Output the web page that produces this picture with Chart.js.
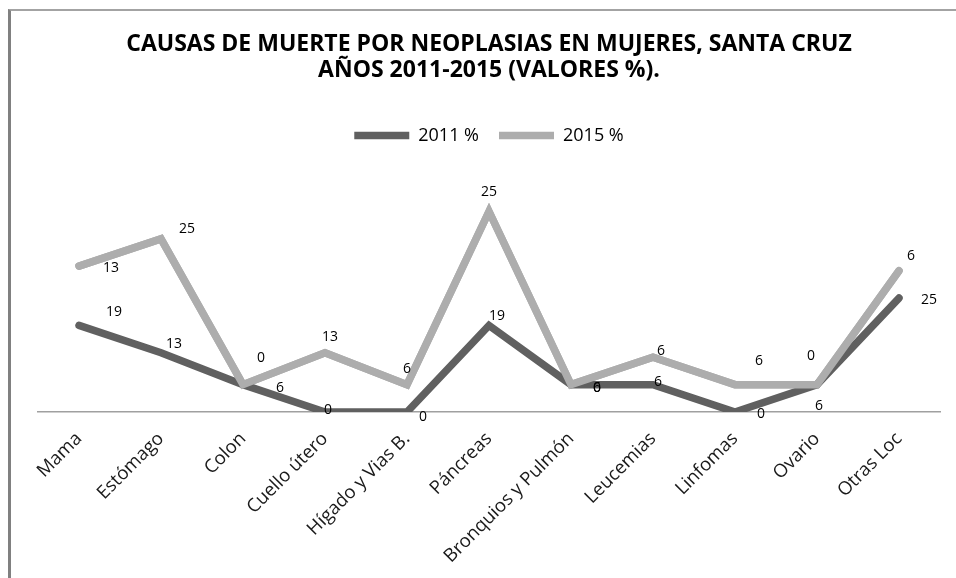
<!DOCTYPE html>
<html lang="es">
<head>
<meta charset="utf-8">
<title>Causas de muerte por neoplasias en mujeres, Santa Cruz</title>
<script src="https://cdn.jsdelivr.net/npm/chart.js@4.4.0/dist/chart.umd.min.js"></script>
<style>
  html, body { margin: 0; padding: 0; background: #fff; }
  #wrap { position: relative; width: 956px; height: 578px; overflow: hidden; }
  #frame {
    position: absolute; left: 8px; top: 9px; right: -5px; bottom: -5px;
    border-top: 2px solid #a3a3a3; border-left: 3px solid #808080;
  }
  #chart { position: absolute; left: 0; top: 0; }
</style>
</head>
<body>
<div id="wrap">
  <div id="frame"></div>
  <canvas id="chart" width="956" height="578"></canvas>
</div>
<script>
// Categories and series (values in %, read from the sheet)
const causas = ['Mama', 'Estómago', 'Colon', 'Cuello útero', 'Hígado y Vias B.', 'Páncreas',
    'Bronquios y Pulmón', 'Leucemias', 'Linfomas', 'Ovario', 'Otras Loc'];
const valores2011 = [19, 13, 6, 0, 0, 19, 6, 6, 0, 6, 25];
const valores2015 = [13, 25, 0, 13, 6, 25, 0, 6, 6, 0, 6];
const serieNombres = ['2011 %', '2015 %'];
const titulo = ['CAUSAS DE MUERTE POR NEOPLASIAS EN MUJERES, SANTA CRUZ', 'AÑOS 2011-2015 (VALORES %).'];

// The value labels were moved by hand in the original, so nudge each one (dx, dy in px)
const labelNudge = [
    [[35, -13], [13, -9], [37, 3], [3, -2], [16, 5], [8, -9], [26, 3], [5, -3], [26, 2], [2, 21], [30, 2]],
    [[32, 2], [26, -10], [18, -27], [5, -16], [0, -16], [0, -19], [26, 3], [8, -6], [24, -24], [-6, -29], [12, -15]]
];

Chart.defaults.font.family = '"Open Sans", sans-serif';

// Draws the 2015 line on top (like Excel) and the value labels
const valueLabels = {
    id: 'valueLabels',
    afterDatasetsDraw(chart) {
        chart.getDatasetMeta(1).controller.draw();

        const ctx = chart.ctx;
        ctx.save();
        ctx.font = '14px "Open Sans"';
        ctx.fillStyle = '#000';
        ctx.textAlign = 'center';
        ctx.textBaseline = 'middle';
        chart.data.datasets.forEach((ds, di) => {
            const meta = chart.getDatasetMeta(di);
            meta.data.forEach((pt, i) => {
                const [dx, dy] = labelNudge[di][i];
                ctx.fillText(String(ds.data[i]), pt.x + dx, pt.y + dy);
            });
        });
        ctx.restore();
    }
};

function lineSerie(label, data, color) {
    return {
        label: label,
        data: data,
        borderColor: color,
        backgroundColor: color,
        borderWidth: 7.5,
        borderCapStyle: 'round',
        borderJoinStyle: 'miter',
        pointRadius: 0,
        pointHoverRadius: 0,
        tension: 0,
        fill: false
    };
}

const ctx = document.getElementById('chart').getContext('2d');
new Chart(ctx, {
    type: 'line',
    data: {
        labels: causas,
        datasets: [
            lineSerie(serieNombres[0], valores2011, '#606060'),
            lineSerie(serieNombres[1], valores2015, '#adadad')
        ]
    },
    options: {
        responsive: false,
        animation: false,
        layout: { padding: { left: 38, right: 16, top: 0, bottom: 0 } },
        plugins: {
            title: {
                display: true,
                text: titulo,
                color: '#000',
                font: { size: 23, weight: 'bold', lineHeight: 1.12 },
                padding: { top: 32, bottom: 23 }
            },
            legend: {
                labels: {
                    usePointStyle: true,
                    pointStyle: 'line',
                    pointStyleWidth: 55,
                    boxHeight: 7,
                    color: '#000',
                    font: { size: 18 },
                    padding: 20
                }
            },
            tooltip: { enabled: false }
        },
        scales: {
            x: {
                offset: true,
                grid: { display: false, drawTicks: false },
                border: { color: '#a0a0a0', width: 1.5 },
                ticks: {
                    autoSkip: false,
                    minRotation: 45,
                    maxRotation: 45,
                    color: '#1a1a1a',
                    font: { size: 18.5 },
                    padding: 16
                },
                afterFit: function(scale) { scale.height = 166; }
            },
            y: { display: false, stacked: true, min: 0, max: 56.5 }
        }
    },
    plugins: [valueLabels]
});
</script>
</body>
</html>
